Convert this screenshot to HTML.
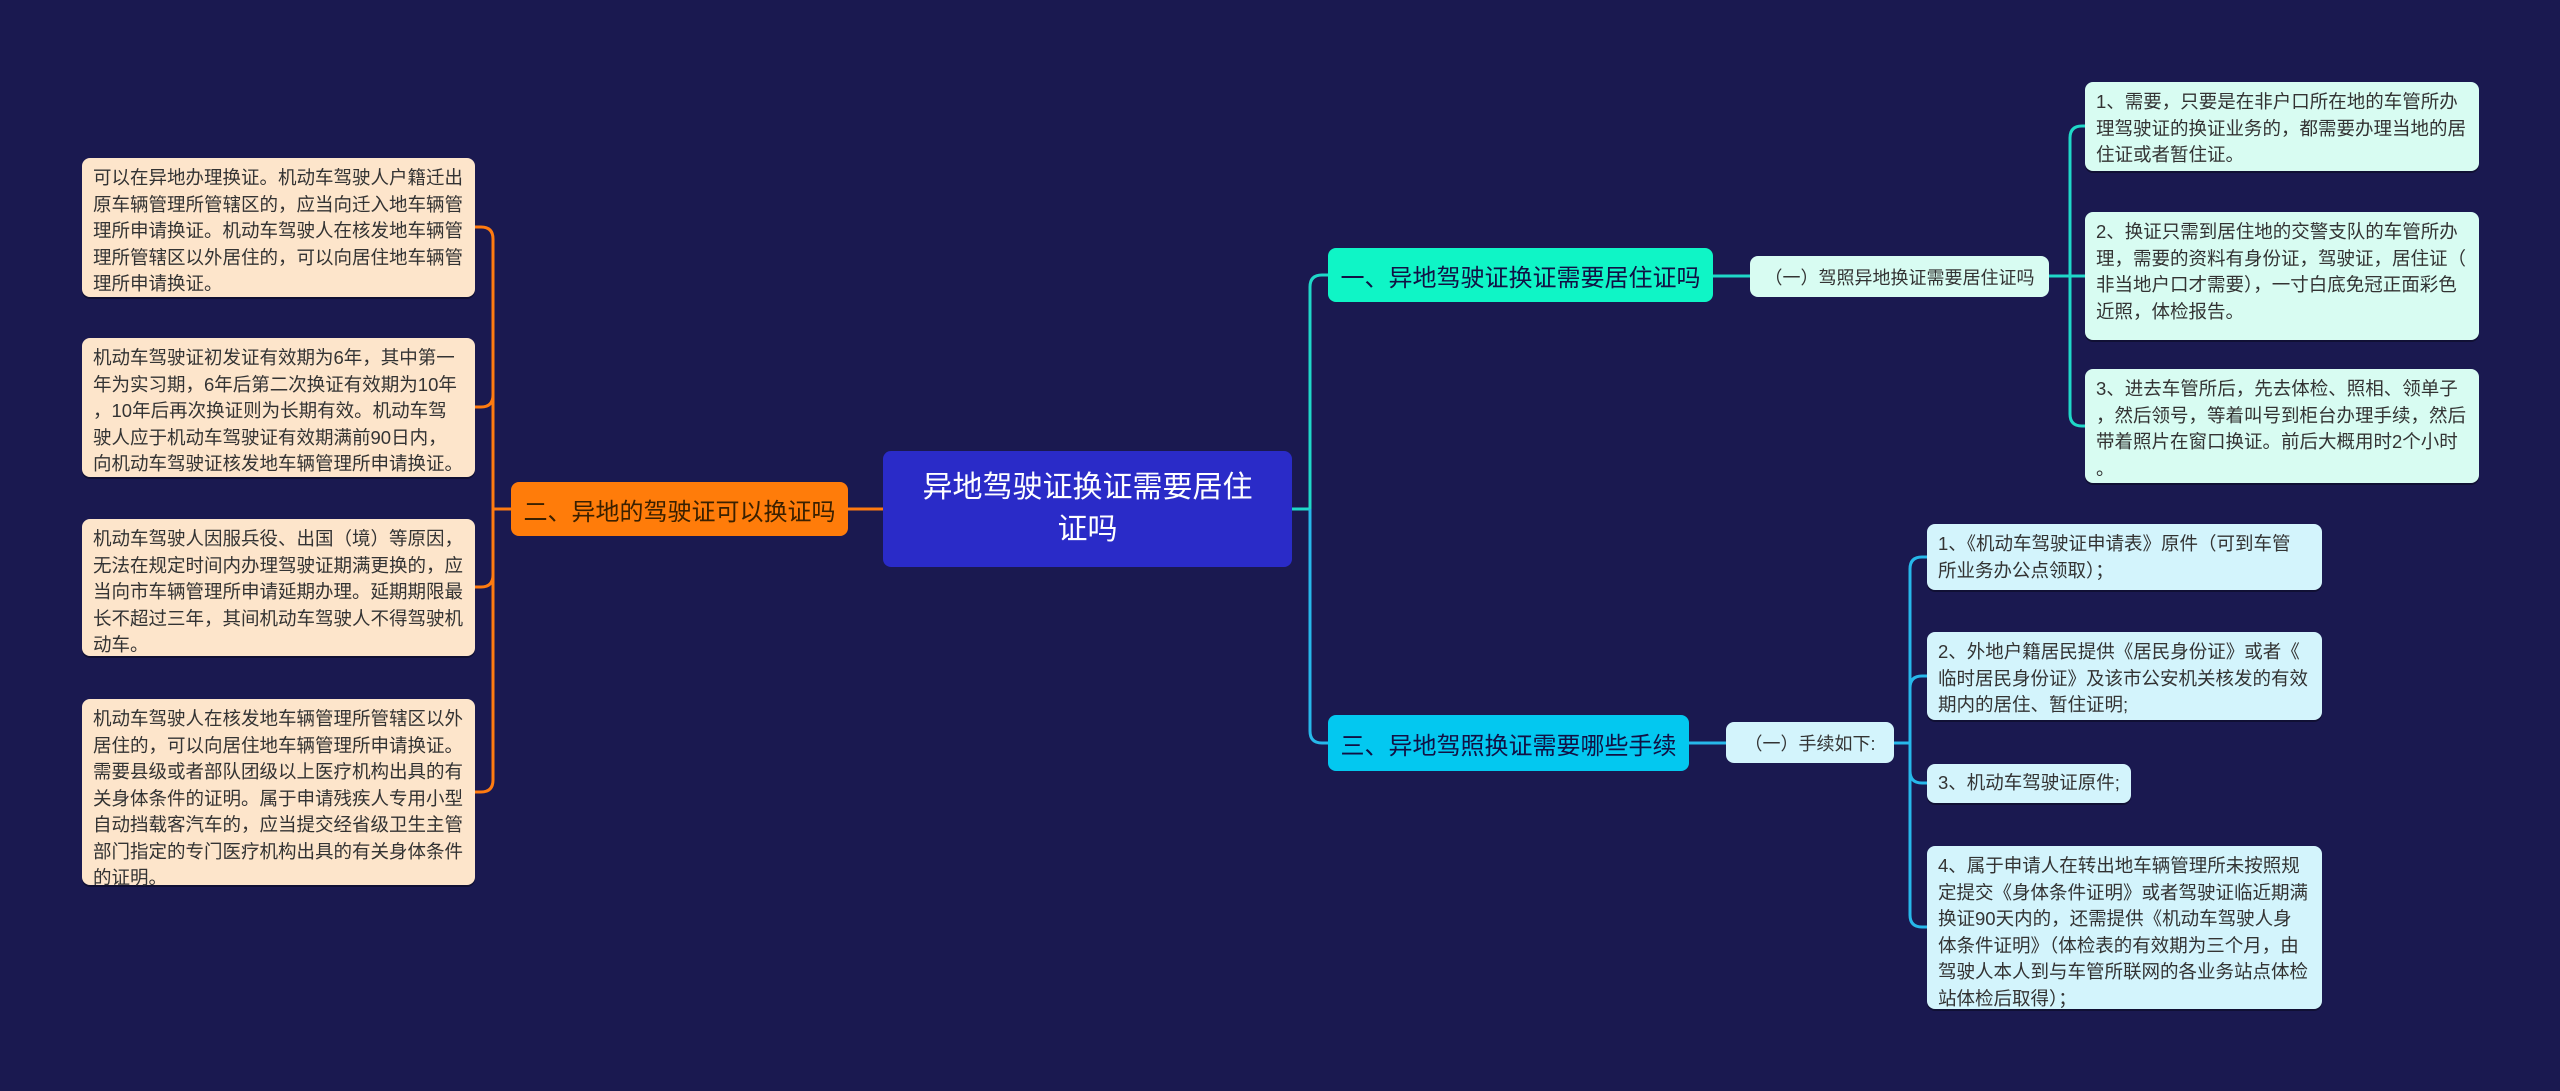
<!DOCTYPE html>
<html><head><meta charset="utf-8"><style>
body{margin:0;width:2560px;height:1091px;background:#1a1950;position:relative;overflow:hidden;font-family:"Liberation Sans","Noto Sans CJK SC",sans-serif;}
.n{position:absolute;box-sizing:border-box;border-radius:8px;color:#333;}
.b{font-size:18.5px;line-height:26.5px;padding:7px 11px;box-shadow:0 2px 0 rgba(0,0,0,.35);word-break:break-all;}
.l{background:#fde5cb;}
.t{background:#d8fcf2;}
.c{background:#d3f4fc;}
.m{display:flex;align-items:center;justify-content:center;text-align:center;}
</style></head><body>
<svg width="2560" height="1091" style="position:absolute;left:0;top:0" fill="none" stroke-width="3">
<g stroke="#ff7b10">
<path d="M883 509 H848"/>
<path d="M511 509 H493 V239 Q493 227 481 227 H475"/>
<path d="M493 509 V395 Q493 407 481 407 H475"/>
<path d="M493 509 V575 Q493 587 481 587 H475"/>
<path d="M493 509 V780 Q493 792 481 792 H475"/>
</g>
<g stroke="#1fd8c8">
<path d="M1292 509 H1310 V287 Q1310 275 1322 275 H1328"/>
<path d="M1713 276 H1750"/>
<path d="M2049 276 H2070 V138 Q2070 126 2082 126 H2085"/>
<path d="M2070 276 H2085"/>
<path d="M2070 276 V414 Q2070 426 2082 426 H2085"/>
</g>
<g stroke="#27b8ea">
<path d="M1310 509 V731 Q1310 743 1322 743 H1328"/>
<path d="M1689 743 H1726"/>
<path d="M1894 743 H1910 V569 Q1910 557 1922 557 H1927"/>
<path d="M1910 743 V688 Q1910 676 1922 676 H1927"/>
<path d="M1910 743 V771 Q1910 783 1922 783 H1927"/>
<path d="M1910 743 V915 Q1910 927 1922 927 H1927"/>
</g>
</svg>

<div class="n b l" style="left:82px;top:158px;width:393px;height:139px">可以在异地办理换证。机动车驾驶人户籍迁出原车辆管理所管辖区的，应当向迁入地车辆管理所申请换证。机动车驾驶人在核发地车辆管理所管辖区以外居住的，可以向居住地车辆管理所申请换证。</div>
<div class="n b l" style="left:82px;top:338px;width:393px;height:139px">机动车驾驶证初发证有效期为6年，其中第一<br>年为实习期，6年后第二次换证有效期为10年<br>，10年后再次换证则为长期有效。机动车驾<br>驶人应于机动车驾驶证有效期满前90日内，<br>向机动车驾驶证核发地车辆管理所申请换证。</div>
<div class="n b l" style="left:82px;top:519px;width:393px;height:137px">机动车驾驶人因服兵役、出国（境）等原因，无法在规定时间内办理驾驶证期满更换的，应当向市车辆管理所申请延期办理。延期期限最长不超过三年，其间机动车驾驶人不得驾驶机动车。</div>
<div class="n b l" style="left:82px;top:699px;width:393px;height:186px">机动车驾驶人在核发地车辆管理所管辖区以外居住的，可以向居住地车辆管理所申请换证。需要县级或者部队团级以上医疗机构出具的有关身体条件的证明。属于申请残疾人专用小型自动挡载客汽车的，应当提交经省级卫生主管部门指定的专门医疗机构出具的有关身体条件的证明。</div>

<div class="n m" style="left:511px;top:482px;width:337px;height:54px;background:#ff7c0a;font-size:24px;color:#3a2000">二、异地的驾驶证可以换证吗</div>
<div class="n m" style="left:883px;top:451px;width:409px;height:116px;background:#2a2bc8;font-size:30px;line-height:42px;color:#fff;padding:0 26px">异地驾驶证换证需要居住证吗</div>

<div class="n m" style="left:1328px;top:248px;width:385px;height:54px;background:#0ff5c6;font-size:24px;color:#114">一、异地驾驶证换证需要居住证吗</div>
<div class="n m" style="left:1750px;top:256px;width:299px;height:41px;background:#d8fcf2;font-size:18px">（一）驾照异地换证需要居住证吗</div>
<div class="n b t" style="left:2085px;top:82px;width:394px;height:89px">1、需要，只要是在非户口所在地的车管所办<br>理驾驶证的换证业务的，都需要办理当地的居<br>住证或者暂住证。</div>
<div class="n b t" style="left:2085px;top:212px;width:394px;height:128px">2、换证只需到居住地的交警支队的车管所办<br>理，需要的资料有身份证，驾驶证，居住证（<br>非当地户口才需要），一寸白底免冠正面彩色<br>近照，体检报告。</div>
<div class="n b t" style="left:2085px;top:369px;width:394px;height:114px">3、进去车管所后，先去体检、照相、领单子<br>，然后领号，等着叫号到柜台办理手续，然后<br>带着照片在窗口换证。前后大概用时2个小时<br>。</div>

<div class="n m" style="left:1328px;top:715px;width:361px;height:56px;background:#03c8f0;font-size:24px;color:#114">三、异地驾照换证需要哪些手续</div>
<div class="n m" style="left:1726px;top:722px;width:168px;height:41px;background:#d3f4fc;font-size:18px">（一）手续如下:</div>
<div class="n b c" style="left:1927px;top:524px;width:395px;height:66px">1、《机动车驾驶证申请表》原件（可到车管<br>所业务办公点领取）；</div>
<div class="n b c" style="left:1927px;top:632px;width:395px;height:88px">2、外地户籍居民提供《居民身份证》或者《<br>临时居民身份证》及该市公安机关核发的有效<br>期内的居住、暂住证明;</div>
<div class="n b c" style="left:1927px;top:764px;width:204px;height:39px;padding-top:6px">3、机动车驾驶证原件;</div>
<div class="n b c" style="left:1927px;top:846px;width:395px;height:163px">4、属于申请人在转出地车辆管理所未按照规<br>定提交《身体条件证明》或者驾驶证临近期满<br>换证90天内的，还需提供《机动车驾驶人身<br>体条件证明》（体检表的有效期为三个月，由<br>驾驶人本人到与车管所联网的各业务站点体检<br>站体检后取得）；</div>
</body></html>
